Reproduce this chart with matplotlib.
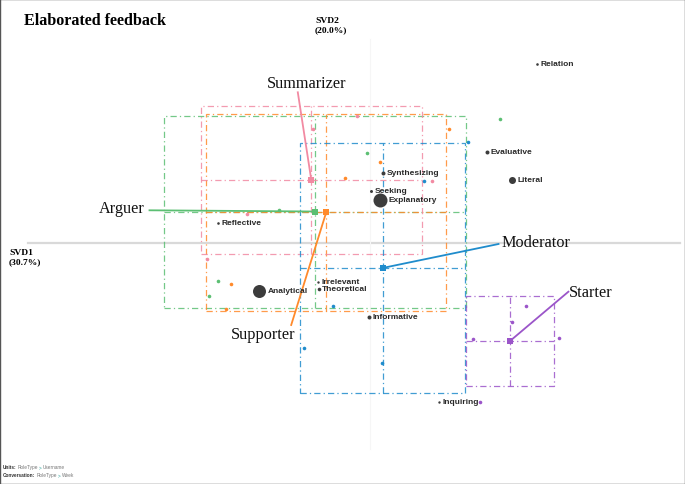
import matplotlib
matplotlib.use("Agg")
import matplotlib.pyplot as plt
from matplotlib.patches import Rectangle

# ---------------- data ----------------
code_names = ["Relation", "Evaluative", "Literal", "Synthesizing", "Seeking", "Explanatory",
              "Reflective", "Analytical", "Irrelevant", "Theoretical", "Informative", "Inquiring"]
code_x = [1.67, 1.17, 1.42, 0.13, 0.01, 0.10, -1.52, -1.11, -0.52, -0.515, -0.01, 0.69]
code_y = [1.79, 0.91, 0.63, 0.70, 0.52, 0.43, 0.20, -0.48, -0.39, -0.455, -0.74, -1.59]
code_radius = [1.3, 2.0, 3.5, 2.0, 1.5, 7.0, 1.3, 6.5, 1.2, 1.8, 2.0, 1.2]

groups = ["Arguer", "Supporter", "Summarizer", "Moderator", "Starter"]
colors = ["#5cbf73", "#ff8a2b", "#f28aa2", "#1f8ccc", "#9b55c9"]

centroid_x = [-0.554, -0.438, -0.587, 0.125, 1.40]
centroid_y = [0.315, 0.307, 0.63, -0.25, -0.98]
ci_half_x = [1.511, 1.202, 1.105, 0.826, 0.442]
ci_half_y = [0.96, 0.983, 0.74, 1.25, 0.45]

units_x = [
    [-0.913, -0.027, 1.30, -1.52, -1.613],
    [-0.253, 0.103, 0.787, -1.387, -1.443],
    [-0.567, -1.23, 0.62, -1.627, -0.132],
    [0.54, 0.977, -0.37, -0.657, 0.123],
    [1.563, 1.42, 1.03, 1.887, 1.098],
]
units_y = [
    [0.33, 0.897, 1.237, -0.383, -0.527],
    [0.653, 0.81, 1.137, -0.41, -0.663],
    [1.14, 0.287, 0.62, -0.16, 1.27],
    [0.62, 1.013, -0.63, -1.05, -1.203],
    [-0.63, -0.79, -0.963, -0.953, -1.585],
]

label_x = [-2.48, -1.068, -0.63, 1.663, 2.205]
label_y = [0.347, -0.91, 1.60, 0.007, -0.493]
leader_x = [-2.205, -0.788, -0.722, 1.285, 1.984]
leader_y = [0.327, -0.82, 1.507, -0.01, -0.487]

title = "Elaborated feedback"
svd1_label = "SVD1\n(30.7%)"
svd2_label = "SVD2\n(20.0%)"

# ---------------- figure ----------------
fig = plt.figure(figsize=(6.85, 4.85), dpi=100)
ax = fig.add_axes([0, 0, 1, 1])
ax.set_xlim(-3.70, 3.15)
ax.set_ylim(-2.41, 2.44)
ax.axis("off")

# axes lines
ax.plot([-3.42, 3.10], [0, 0], color="#d9d9d9", lw=1.6, zorder=1)
ax.plot([0, 0], [2.04, -2.06], color="#f6f6f6", lw=0.8, zorder=1)

dash = (0, (5, 2.5, 1, 2.5))
for i, g in enumerate(groups):
    c = colors[i]
    cx, cy, hx, hy = centroid_x[i], centroid_y[i], ci_half_x[i], ci_half_y[i]
    ax.add_patch(Rectangle((cx - hx, cy - hy), 2 * hx, 2 * hy, fill=False,
                           edgecolor=c, lw=0.9, linestyle=dash, alpha=0.85, zorder=2))
    ax.plot([cx - hx, cx + hx], [cy, cy], color=c, lw=0.9, linestyle=dash, alpha=0.85, zorder=2)
    ax.plot([cx, cx], [cy - hy, cy + hy], color=c, lw=0.9, linestyle=dash, alpha=0.85, zorder=2)
    ax.scatter(units_x[i], units_y[i], s=(2 * 1.8 * 0.72) ** 2, color=c, zorder=4, linewidths=0)

for i, g in enumerate(groups):
    c = colors[i]
    ax.plot([leader_x[i], centroid_x[i]], [leader_y[i], centroid_y[i]], color=c, lw=1.3, zorder=5)
    ax.plot(centroid_x[i], centroid_y[i], marker="s", markersize=5.0, color=c, zorder=6, mew=0)
    ax.text(label_x[i], label_y[i], g, family="Liberation Serif", fontsize=11.7,
            ha="center", va="center", color="#111111", zorder=7)

# code nodes
for n, x, y, r in zip(code_names, code_x, code_y, code_radius):
    ax.scatter([x], [y], s=(2 * r * 0.72) ** 2, color="#3c3c3c", zorder=5, linewidths=0)
    ax.annotate(n, (x, y), xytext=((r + 1.8) * 0.72, 0), textcoords="offset points",
                ha="left", va="center", family="Liberation Sans", fontweight="bold",
                fontsize=6, color="#2a2a2a", zorder=7)

# titles
fig.text(24 / 685, 1 - 21 / 485, title, family="Liberation Serif", fontweight="bold",
         fontsize=11.6, ha="left", va="center")
fig.text(315 / 685, 1 - 25.5 / 485, svd2_label, family="Liberation Serif", fontweight="bold",
         fontsize=6.8, ha="left", va="center", linespacing=1.25)
fig.text(9 / 685, 1 - 257.5 / 485, svd1_label, family="Liberation Serif", fontweight="bold",
         fontsize=6.8, ha="left", va="center", linespacing=1.25)

# footer
def footer(y, head, parts):
    t = fig.text(3 / 685, 1 - y / 485, head, family="Liberation Sans", fontweight="bold",
                 fontsize=3.4, ha="left", va="center", color="#333333")
    fig.canvas.draw()
    r = fig.canvas.get_renderer()
    bb = t.get_window_extent(r)
    x = bb.x1 + 1.0
    for txt, col in parts:
        tt = fig.text(x / 685, 1 - y / 485, txt, family="Liberation Sans", fontsize=3.4,
                      ha="left", va="center", color=col)
        bb = tt.get_window_extent(r)
        x = bb.x1 + 1.0

footer(468.0, "Units:", [("RoleType", "#777777"), (">", "#2aa198"), ("Username", "#777777")])
footer(476.0, "Conversation:", [("RoleType", "#777777"), (">", "#2aa198"), ("Week", "#777777")])

# border
fig.patches.append(Rectangle((0.0007, 0.001), 0.9986, 0.998, transform=fig.transFigure,
                             fill=False, edgecolor="#555555", lw=1.0))

fig.savefig("out.png", dpi=100)
